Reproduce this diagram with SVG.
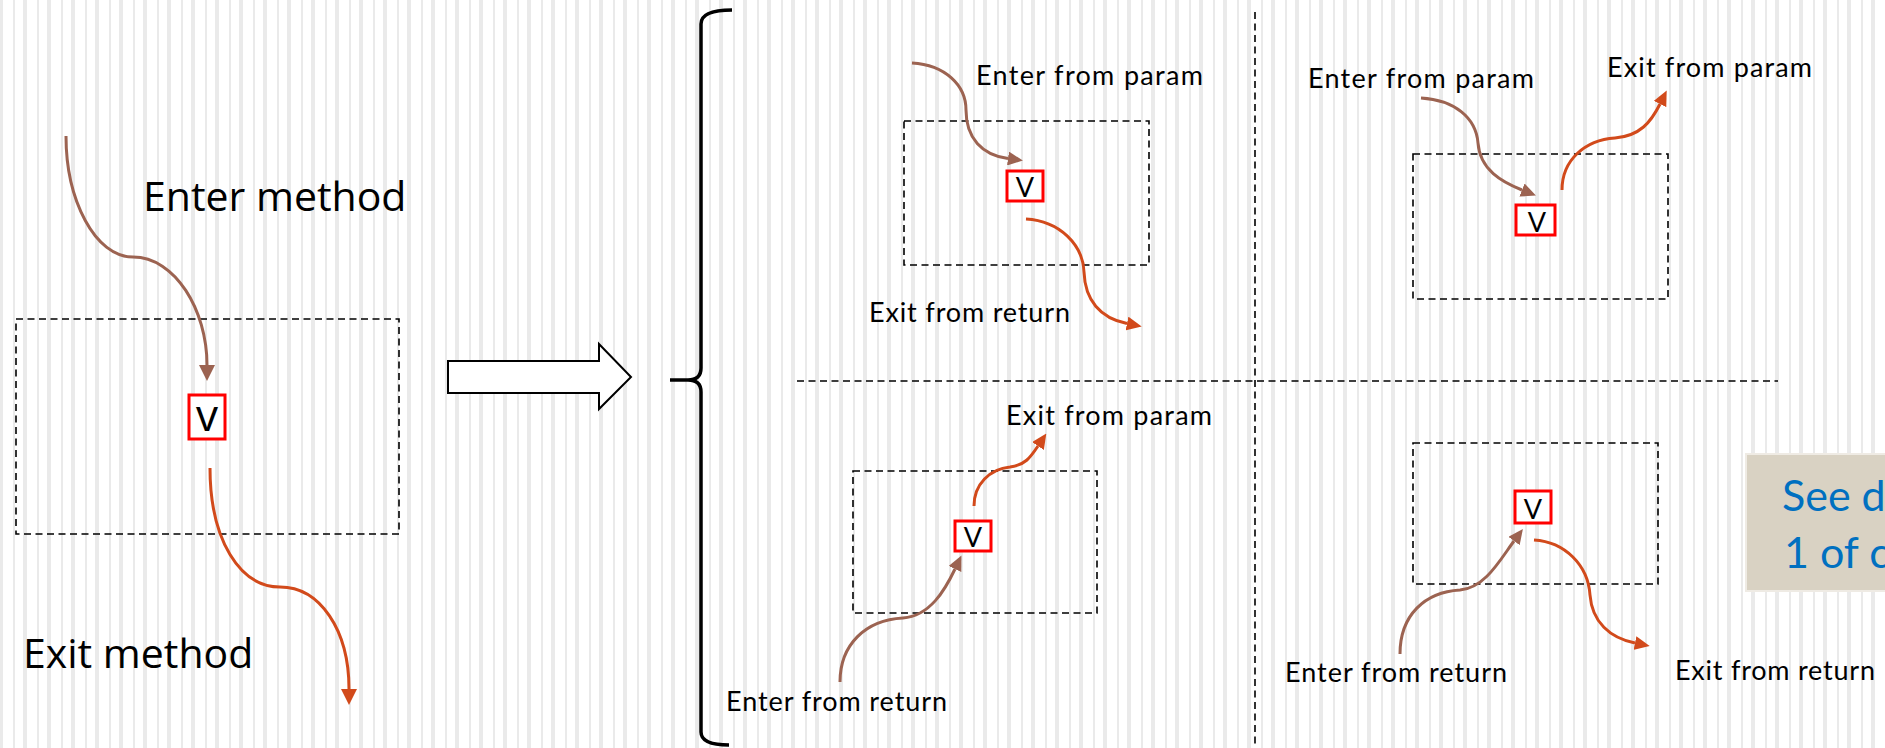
<svg xmlns="http://www.w3.org/2000/svg" width="1885" height="748" viewBox="0 0 1885 748">
  <defs>
    <!-- striped slide background -->
    <pattern id="stripes" x="-1" y="0" width="24" height="24" patternUnits="userSpaceOnUse">
      <rect x="0" y="0" width="4" height="24" fill="#eaeaea"/>
      <rect x="14" y="0" width="2" height="24" fill="#eaeaea"/>
    </pattern>
    <marker id="headBrownL" markerUnits="userSpaceOnUse" viewBox="0 0 16 16" markerWidth="16" markerHeight="16" refX="0" refY="8" orient="auto">
      <path d="M0,0 L16,8 L0,16 z" fill="#9c6351"/>
    </marker>
    <marker id="headOrangeL" markerUnits="userSpaceOnUse" viewBox="0 0 16 16" markerWidth="16" markerHeight="16" refX="0" refY="8" orient="auto">
      <path d="M0,0 L16,8 L0,16 z" fill="#d24a1b"/>
    </marker>
    <marker id="headBrown" markerUnits="userSpaceOnUse" viewBox="0 0 15 14" markerWidth="15" markerHeight="14" refX="0" refY="7" orient="auto">
      <path d="M0,0 L15,7 L0,14 z" fill="#9c6351"/>
    </marker>
    <marker id="headOrange" markerUnits="userSpaceOnUse" viewBox="0 0 15 14" markerWidth="15" markerHeight="14" refX="0" refY="7" orient="auto">
      <path d="M0,0 L15,7 L0,14 z" fill="#d24a1b"/>
    </marker>
  </defs>
  <style>
    .scope { fill: none; stroke: #000; stroke-width: 1.6; stroke-dasharray: 7 4.5; }
    .sep { fill: none; stroke: #000; stroke-width: 1.6; stroke-dasharray: 7 4.5; }
    .vbox { fill: #fff; stroke: #ff0000; stroke-width: 3; }
    .vtxt { font-family: Lato, "Liberation Sans", sans-serif; font-size: 27px; fill: #000; text-anchor: middle; }
    .vbig { font-family: "Open Sans", "Liberation Sans", sans-serif; font-size: 44px; fill: #000; text-anchor: middle; }
    .lbl { font-family: Lato, "Liberation Sans", sans-serif; font-size: 27px; fill: #000; }
    .big { font-family: "Open Sans", "Liberation Sans", sans-serif; font-size: 41px; fill: #000; }
    .in { fill: none; stroke: #9c6351; stroke-width: 3; }
    .out { fill: none; stroke: #d24a1b; stroke-width: 3; }
    .note { font-family: Lato, "Liberation Sans", sans-serif; font-size: 43px; fill: #0070c0; }
  </style>

  <rect x="0" y="0" width="1885" height="748" fill="#fff"/>
  <rect x="0" y="0" width="1885" height="748" fill="url(#stripes)"/>

  <!-- whole method -->
  <g id="method">
    <rect class="scope" x="16" y="319" width="383" height="215"/>
    <rect class="vbox" x="189" y="395" width="36" height="44"/>
    <text class="vbig" x="207" y="431">v</text>
    <text class="big" x="143" y="211">Enter method</text>
    <text class="big" x="23" y="668">Exit method</text>
  </g>

  <!-- transformation arrow and brace -->
  <g id="transform-arrow">
    <polygon points="448,361 599,361 599,344 631,377 599,409 599,393 448,393" fill="#fff" stroke="#000" stroke-width="2"/>
  </g>
  <g id="brace">
    <path d="M732,10 Q701,10 701,24 L701,368 Q701,380 688,380 L670,380 M688,380 Q701,380 701,392 L701,732 Q701,745 729,745" fill="none" stroke="#000" stroke-width="3.5"/>
  </g>

  <!-- quadrant separators -->
  <g id="separators">
    <line class="sep" x1="1255" y1="12" x2="1255" y2="748"/>
    <line class="sep" x1="797" y1="381" x2="1778" y2="381"/>
  </g>

  <!-- param in, return out -->
  <g id="case-param-return">
    <rect class="scope" x="904" y="121" width="245" height="144"/>
    <rect class="vbox" x="1007" y="171" width="36" height="30"/>
    <text class="vtxt" x="1025" y="197">V</text>
    <text class="lbl" x="976" y="85" textLength="227" lengthAdjust="spacing">Enter from param</text>
    <text class="lbl" x="869" y="322" textLength="201" lengthAdjust="spacing">Exit from return</text>
  </g>

  <!-- param in, param out -->
  <g id="case-param-param">
    <rect class="scope" x="1413" y="154" width="255" height="145"/>
    <rect class="vbox" x="1516" y="205" width="39" height="30"/>
    <text class="vtxt" x="1537" y="232">V</text>
    <text class="lbl" x="1308" y="88" textLength="226" lengthAdjust="spacing">Enter from param</text>
    <text class="lbl" x="1607" y="77" textLength="205" lengthAdjust="spacing">Exit from param</text>
  </g>

  <!-- return in, param out -->
  <g id="case-return-param">
    <rect class="scope" x="853" y="471" width="244" height="142"/>
    <rect class="vbox" x="955" y="521" width="36" height="30"/>
    <text class="vtxt" x="973" y="547">V</text>
    <text class="lbl" x="1006" y="425" textLength="206" lengthAdjust="spacing">Exit from param</text>
    <text class="lbl" x="726" y="711" textLength="221" lengthAdjust="spacing">Enter from return</text>
  </g>

  <!-- return in, return out -->
  <g id="case-return-return">
    <rect class="scope" x="1413" y="443" width="245" height="141"/>
    <rect class="vbox" x="1515" y="491" width="36" height="32"/>
    <text class="vtxt" x="1533" y="519">V</text>
    <text class="lbl" x="1285" y="682" textLength="222" lengthAdjust="spacing">Enter from return</text>
    <text class="lbl" x="1675" y="680" textLength="200" lengthAdjust="spacing">Exit from return</text>
  </g>

  <!-- side note, running past the right edge -->
  <g id="note">
    <rect x="1746" y="454" width="150" height="137" fill="#d9d2c3" stroke="#efebe4" stroke-width="2"/>
    <text class="note" x="1782" y="511">See d</text>
    <text class="note" x="1784" y="568">1 of c</text>
  </g>

  <!-- flow connectors -->
  <g id="connectors">
    <path class="in" d="M66,136 C66,200 95,257 133,257 C175,257 207,310 207,365" marker-end="url(#headBrownL)"/>
    <path class="out" d="M210,468 C210,540 240,587 280,587 C320,587 349,630 349,689" marker-end="url(#headOrangeL)"/>

    <path class="in" d="M912,63 C945,65 966,85 966,110 C966,138 982,155 1008,158.5" marker-end="url(#headBrown)"/>
    <path class="out" d="M1026,219 C1060,221 1083,245 1084,272 C1085,300 1100,318 1127,323.5" marker-end="url(#headOrange)"/>

    <path class="in" d="M1421,98 C1455,100 1476,118 1478,143 C1480,170 1502,182 1522,190" marker-end="url(#headBrown)"/>
    <path class="out" d="M1562,190 C1562,160 1585,140 1615,138 C1640,136 1651,122 1660,104" marker-end="url(#headOrange)"/>

    <path class="out" d="M974,506 C974,484 990,469 1010,467 C1025,465 1030,458 1038,446" marker-end="url(#headOrange)"/>
    <path class="in" d="M840,682 C840,645 865,620 903,618 C930,616 945,590 955,569" marker-end="url(#headBrown)"/>

    <path class="in" d="M1400,654 C1400,615 1425,592 1460,590 C1485,588 1500,560 1514,541" marker-end="url(#headBrown)"/>
    <path class="out" d="M1534,540 C1565,542 1588,565 1590,595 C1592,622 1610,638 1635,643" marker-end="url(#headOrange)"/>
  </g>
</svg>
